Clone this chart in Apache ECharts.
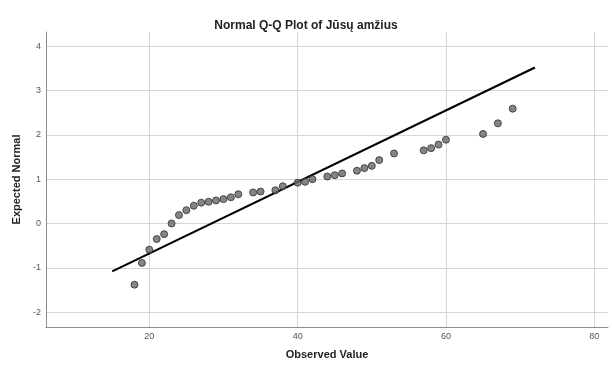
<!DOCTYPE html>
<html>
<head>
<meta charset="utf-8">
<script src="https://cdn.jsdelivr.net/npm/echarts@6/dist/echarts.min.js"></script>
<style>
  html, body { margin: 0; padding: 0; background: #fff; }
  #qq { width: 612px; height: 365px; }
</style>
</head>
<body>
<div id="qq"></div>
<script>
// observed ages and their expected normal values
var observed = [18, 19, 20, 21, 22, 23, 24, 25, 26, 27, 28, 29, 30, 31, 32, 34, 35, 37, 38, 40,
                41, 42, 44, 45, 46, 48, 49, 50, 51, 53, 57, 58, 59, 60, 65, 67, 69];
var expected = [-1.38, -0.89, -0.59, -0.35, -0.24, 0.0, 0.19, 0.30, 0.40, 0.47, 0.49, 0.52, 0.55, 0.59, 0.66, 0.70, 0.72, 0.75, 0.84, 0.92,
                0.94, 1.00, 1.06, 1.09, 1.13, 1.19, 1.25, 1.30, 1.43, 1.58, 1.65, 1.70, 1.78, 1.89, 2.02, 2.26, 2.59];
// reference line ends
var lineX = [15, 72];
var lineY = [-1.08, 3.52];
// ticks
var xTicks = [20, 40, 60, 80];
var yTicks = [-2, -1, 0, 1, 2, 3, 4];

var chart = echarts.init(document.getElementById('qq'));
var font = 'Arial, "Liberation Sans", sans-serif';

var option = {
    animation: false,
    title: {
        text: 'Normal Q-Q Plot of Jūsų amžius',
        left: 'center',
        top: 15,
        textStyle: { fontFamily: font, fontSize: 12, fontWeight: 'bold', color: '#222' }
    },
    grid: { left: 46, right: 4, top: 32, bottom: 36 },
    xAxis: {
        type: 'value',
        min: 6.07,
        max: 81.85,
        name: 'Observed Value',
        nameLocation: 'middle',
        nameGap: 22,
        nameTextStyle: { fontFamily: font, fontSize: 11, fontWeight: 'bold', color: '#222' },
        axisLine: { onZero: false, lineStyle: { color: '#8c8c8c', width: 1 } },
        axisTick: { show: false, customValues: xTicks },
        axisLabel: { customValues: xTicks, fontFamily: font, fontSize: 9, color: '#555', margin: 5 },
        splitLine: { show: true, lineStyle: { color: '#d6d6d6', width: 1 } }
    },
    yAxis: {
        type: 'value',
        min: -2.335,
        max: 4.32,
        name: 'Expected Normal',
        nameLocation: 'middle',
        nameGap: 23,
        nameTextStyle: { fontFamily: font, fontSize: 11, fontWeight: 'bold', color: '#222' },
        axisLine: { show: true, onZero: false, lineStyle: { color: '#8c8c8c', width: 1 } },
        axisTick: { show: false, customValues: yTicks },
        axisLabel: { customValues: yTicks, fontFamily: font, fontSize: 9, color: '#555', margin: 5 },
        splitLine: { show: true, lineStyle: { color: '#d6d6d6', width: 1 } }
    },
    series: [
        {
            type: 'line',
            data: lineX.map(function (x, i) { return [x, lineY[i]]; }),
            symbol: 'none',
            lineStyle: { color: '#000', width: 2.2 },
            z: 2
        },
        {
            type: 'scatter',
            data: observed.map(function (x, i) { return [x, expected[i]]; }),
            symbol: 'circle',
            symbolSize: 7,
            itemStyle: { color: '#666', borderColor: '#2e2e2e', borderWidth: 1 },
            z: 3
        }
    ]
};
chart.setOption(option);
</script>
</body>
</html>
